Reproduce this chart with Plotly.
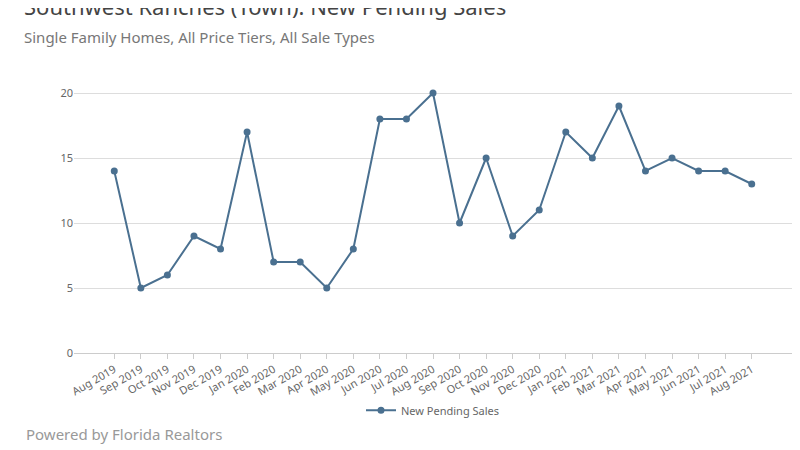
import plotly.graph_objects as go

months = ["Aug 2019", "Sep 2019", "Oct 2019", "Nov 2019", "Dec 2019", "Jan 2020",
          "Feb 2020", "Mar 2020", "Apr 2020", "May 2020", "Jun 2020", "Jul 2020",
          "Aug 2020", "Sep 2020", "Oct 2020", "Nov 2020", "Dec 2020", "Jan 2021",
          "Feb 2021", "Mar 2021", "Apr 2021", "May 2021", "Jun 2021", "Jul 2021",
          "Aug 2021"]
pending = [14, 5, 6, 9, 8, 17, 7, 7, 5, 8, 18, 18, 20, 10, 15, 9, 11, 17, 15, 19,
           14, 15, 14, 14, 13]

fig = go.Figure(go.Scatter(
    x=months, y=pending, mode="lines+markers", name="New Pending Sales",
    line=dict(color="#4a7090", width=2), marker=dict(size=7, color="#4a7090"),
))

fig.update_layout(
    width=800, height=450, paper_bgcolor="white", plot_bgcolor="white",
    font=dict(family="Noto Sans", color="#666"),
    margin=dict(l=66, r=16, t=72, b=105),
    title=dict(
        text="Southwest Ranches (Town): New Pending Sales<br>"
             "<span style='font-size:15px;color:#777'>Single Family Homes, All Price Tiers, All Sale Types</span>",
        x=0.02, y=0.985, xanchor="left", yanchor="top",
        font=dict(size=22, color="#444"),
    ),
    xaxis=dict(tickangle=-30, tickfont=dict(size=11), showgrid=False,
               showline=True, linecolor="#ccc", ticks="outside", tickcolor="#ccc"),
    yaxis=dict(range=[0, 21], tickvals=[0, 5, 10, 15, 20], gridcolor="#ddd",
               tickfont=dict(size=11), zeroline=False),
    showlegend=True,
    legend=dict(orientation="h", x=0.5, xanchor="center", y=-0.21, yanchor="middle",
                font=dict(size=11)),
    annotations=[dict(text="Powered by Florida Realtors", xref="paper", yref="paper",
                      x=-0.07, y=-0.297, xanchor="left", yanchor="middle",
                      showarrow=False, font=dict(size=15, color="#999"))],
)

fig.write_html("out.html")
